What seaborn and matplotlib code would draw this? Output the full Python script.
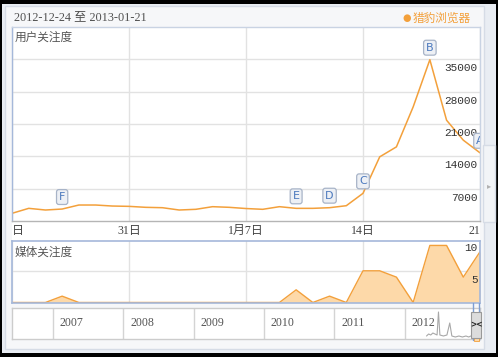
import numpy as np
import pandas as pd
import matplotlib
matplotlib.use("Agg")
import matplotlib.pyplot as plt
import matplotlib.patches as mpatches
import seaborn as sns

# data
days = list(range(29))
date_tick_days = [0, 7, 14, 21, 28]
date_tick_labels = ['日', '31日', '1月7日', '14日', '21']
user_index = [1660, 2740, 2380, 2590, 3460, 3460, 3240, 3170, 2960, 2880,
              2380, 2530, 3100, 2960, 2700, 2530, 3100, 2740, 2740, 2880,
              3310, 5990, 13890, 16050, 24690, 34920, 21820, 17500, 14760]
media_index = [0, 0, 0, 1, 0, 0, 0, 0, 0, 0, 0, 0, 0, 0, 0, 0,
               0, 2, 0, 1, 0, 5, 5, 4, 0, 9, 9, 4, 8]
event_letters = ['F', 'E', 'D', 'C', 'B', 'A']
event_days = [3, 17, 19, 21, 25, 28]
user_ticks = [7000, 14000, 21000, 28000, 35000]
media_ticks = [5, 10]
years = [2007, 2008, 2009, 2010, 2011, 2012]
spark_x = [2012.31, 2012.34, 2012.37, 2012.40, 2012.43, 2012.46, 2012.48,
           2012.50, 2012.55, 2012.60, 2012.64, 2012.67, 2012.72, 2012.77,
           2012.82, 2012.87, 2012.91, 2012.94, 2012.97]
spark_y = [3, 5, 4, 6, 5, 4, 27, 4, 3, 4, 16, 3, 2, 3, 2, 3, 2, 3, 2]

ORANGE = '#f3a03b'
FILL = '#fdd9a9'
GRID = '#e2e2e2'
CJK = ['Noto Sans CJK SC', 'DejaVu Sans']
SERIF = ['Liberation Serif', 'Noto Sans CJK SC']
MONO = ['Liberation Mono']

sns.set_style("white")
plt.rcParams['font.family'] = CJK

W, H = 498, 357
fig = plt.figure(figsize=(W / 100, H / 100), dpi=100, facecolor='black')


def box(x0, y0, x1, y1):
    # pixel box (top-left origin) -> figure fraction rect
    return [x0 / W, 1 - y1 / H, (x1 - x0) / W, (y1 - y0) / H]


def frect(x0, y0, x1, y1, z=-5, **kw):
    l, b, w, h = box(x0, y0, x1, y1)
    fig.patches.append(mpatches.Rectangle((l, b), w, h, transform=fig.transFigure,
                                          zorder=z, **kw))


# widget background
frect(2, 4, 496, 353, facecolor='#e9edf3', edgecolor='none', z=-6)
frect(5, 6, 484, 349, facecolor='#f6f7f9', edgecolor='#d6dce6', lw=1)
frect(12, 221, 480, 241, facecolor='white', edgecolor='none')
# right tab
frect(483, 145, 495, 222, facecolor='#f2f4f7', edgecolor='#d6dce6', lw=1)
fig.text(489.5 / W, 1 - 186 / H, '▸', color='#b0b0b0', fontsize=6,
         ha='center', va='center', family=['DejaVu Sans'])

# header
fig.text(14 / W, 1 - 17 / H, '2012-12-24 至 2013-01-21', family=SERIF,
         fontsize=8.8, color='#505050', va='center', ha='left')
fig.text(407 / W, 1 - 18 / H, '●', color=ORANGE, fontsize=7, ha='center',
         va='center', family=['DejaVu Sans'])
fig.text(413 / W, 1 - 18 / H, '猎豹浏览器', color=ORANGE, fontsize=8.4,
         ha='left', va='center')

# ---- user attention panel ----
ax1 = fig.add_axes(box(12, 27, 480, 221))
ax1.set_facecolor('white')
sns.lineplot(x=days, y=user_index, color=ORANGE, lw=1.1, ax=ax1)
ax1.set_xlim(0, 28)
ax1.set_ylim(0, 42000)
ax1.set_xticks(date_tick_days)
ax1.set_yticks(user_ticks)
ax1.set_xticklabels([])
ax1.set_yticklabels([])
ax1.tick_params(length=0)
ax1.grid(True, color=GRID, lw=1)
ax1.set_axisbelow(True)
for s in ['top', 'right']:
    ax1.spines[s].set_color('#c9d3e3')
ax1.spines['left'].set_color('#a5b8da')
ax1.spines['bottom'].set_color('#b5b5b5')
for sp in ax1.spines.values():
    sp.set_linewidth(1)
    sp.set_zorder(3)
ax1.text(0.006, 0.98, '用户关注度', transform=ax1.transAxes, fontsize=8.4,
         color='#555555', va='top', ha='left')
for v in user_ticks:
    ax1.annotate(str(v), xy=(0.995, v), xycoords=('axes fraction', 'data'),
                 xytext=(0, -9), textcoords='offset pixels', ha='right',
                 va='center', fontsize=8, color='#333333', family=MONO)
for letter, d in zip(event_letters, event_days):
    ax1.annotate(letter, xy=(d, user_index[d]), xytext=(0, 12),
                 textcoords='offset pixels', ha='center', va='center',
                 fontsize=8, color='#4a78bd', family=['DejaVu Sans'],
                 annotation_clip=False, clip_on=True,
                 bbox=dict(boxstyle='round,pad=0.22', fc='#edf0f5',
                           ec='#a8b4c8', lw=0.9))
for d, lab in zip(date_tick_days, date_tick_labels):
    ha = 'left' if d == 0 else ('right' if d == 28 else 'center')
    ax1.annotate(lab, xy=(d, 0), xytext=(0, -10), textcoords='offset pixels',
                 ha=ha, va='center', fontsize=8.6, color='#444444',
                 family=SERIF, annotation_clip=False)

# ---- media attention panel ----
ax2 = fig.add_axes(box(12, 241, 480, 303))
ax2.set_facecolor('white')
ax2.fill_between(days, media_index, color=FILL, lw=0)
sns.lineplot(x=days, y=media_index, color=ORANGE, lw=1.0, ax=ax2)
ax2.set_xlim(0, 28)
ax2.set_ylim(-0.08, 9.7)
ax2.set_xticks(date_tick_days)
ax2.set_yticks([5])
ax2.set_xticklabels([])
ax2.set_yticklabels([])
ax2.tick_params(length=0)
ax2.grid(True, color=GRID, lw=1)
ax2.set_axisbelow(True)
for sp in ax2.spines.values():
    sp.set_color('#a5b8da')
    sp.set_linewidth(1.2)
    sp.set_zorder(3)
ax2.text(0.006, 0.93, '媒体关注度', transform=ax2.transAxes, fontsize=8.4,
         color='#555555', va='top', ha='left')
for v in media_ticks:
    ax2.annotate(str(v), xy=(0.995, min(v, 9.7)), xycoords=('axes fraction', 'data'),
                 xytext=(0, -9 if v == 5 else -7), textcoords='offset pixels',
                 ha='right', va='center', fontsize=8, color='#333333', family=MONO)

# ---- timeline navigator ----
ax3 = fig.add_axes(box(12, 308, 480, 339))
ax3.set_facecolor('white')
ax3.set_xlim(2006.42, 2013.07)
ax3.set_ylim(0, 31)
for yr in years:
    ax3.axvline(yr, color='#d4d4d4', lw=1)
    ax3.text(yr + 0.1, 16, str(yr), fontsize=8.6, color='#555555',
             family=SERIF, ha='left', va='center')
sns.lineplot(x=spark_x, y=spark_y, color='#a8a8a8', lw=0.8, ax=ax3)
ax3.set_xticks([])
ax3.set_yticks([])
for sp in ax3.spines.values():
    sp.set_color('#cccccc')
    sp.set_linewidth(1)

# selection window linking the navigator to the charts
for xp in (473, 479):
    fig.lines.append(plt.Line2D([xp / W, xp / W], [1 - 303 / H, 1 - 340 / H],
                                transform=fig.transFigure, color='#7d9dd2', lw=1))
frect(474, 336, 479, 341, z=3, facecolor=FILL, edgecolor=ORANGE, lw=0.6)
frect(471, 312, 481, 338, z=3, facecolor='#dcdcdc', edgecolor='#999999', lw=0.8)
fig.text(476 / W, 1 - 325 / H, '><', fontsize=5.5, color='#222222',
         ha='center', va='center', family=['DejaVu Sans'], weight='bold', zorder=4)

fig.savefig('out.png', dpi=100, facecolor=fig.get_facecolor())
